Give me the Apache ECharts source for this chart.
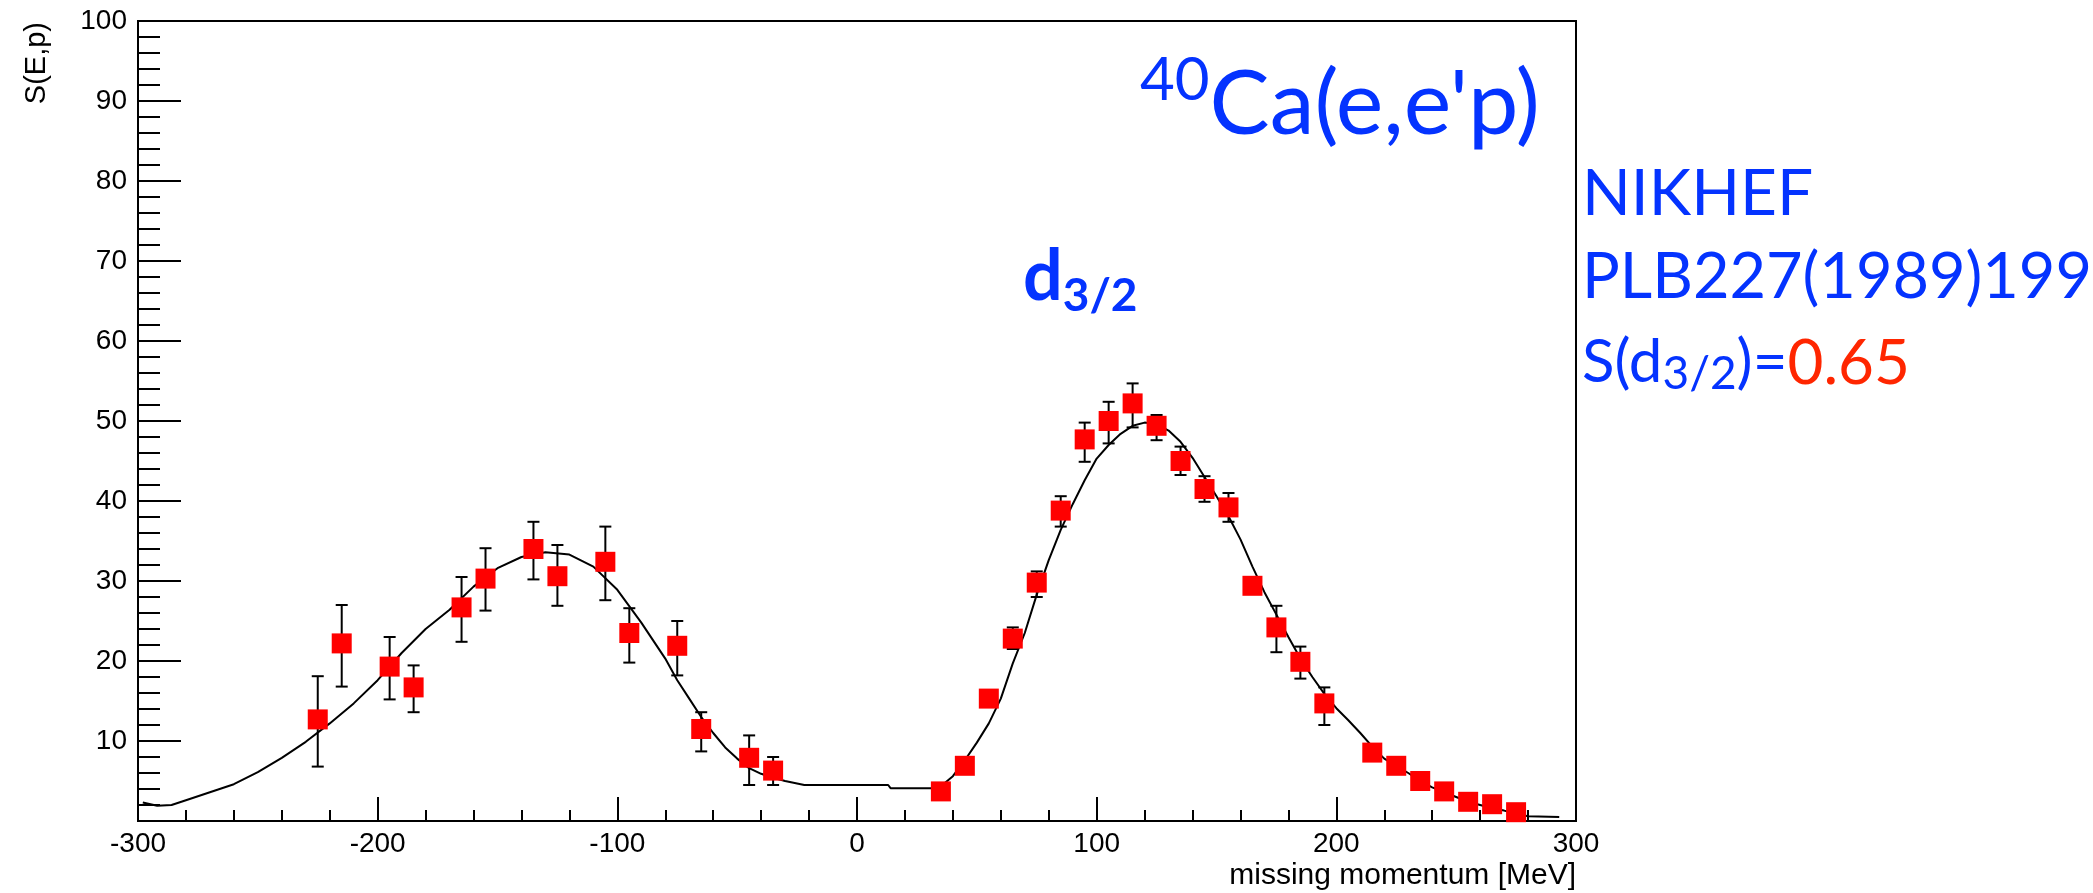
<!DOCTYPE html>
<html>
<head>
<meta charset="utf-8">
<script src="https://cdn.jsdelivr.net/npm/echarts@6/dist/echarts.min.js"></script>
<style>
  html, body { margin: 0; padding: 0; background: #fff; }
  #chart { width: 2093px; height: 893px; }
</style>
</head>
<body>
<div id="chart"></div>
<script>
// ---- data ----
const pointX = [-225, -215, -195, -185, -165, -155, -135, -125, -105, -95, -75, -65, -45, -35,
  35, 45, 55, 65, 75, 85, 95, 105, 115, 125, 135, 145, 155, 165, 175, 185, 195,
  215, 225, 235, 245, 255, 265, 275];
const pointY = [12.7, 22.2, 19.3, 16.7, 26.7, 30.3, 34.0, 30.6, 32.4, 23.5, 21.9, 11.5, 7.9, 6.3,
  3.7, 6.9, 15.3, 22.8, 29.8, 38.8, 47.7, 50.0, 52.2, 49.4, 45.0, 41.5, 39.2, 29.4, 24.2, 19.9, 14.7,
  8.55, 6.9, 5.0, 3.7, 2.4, 2.1, 1.1];
const errLow = [6.8, 16.8, 15.2, 13.6, 22.4, 26.3, 30.2, 26.9, 27.6, 19.8, 18.2, 8.7, 4.5, 4.5,
  3.2, 6.3, 14.6, 21.5, 28.0, 36.8, 44.9, 47.2, 49.2, 47.6, 43.25, 39.9, 37.4, 28.6, 21.1, 17.8, 12.0,
  8.0, 6.4, 4.6, 3.3, 2.1, 1.8, 0.8];
const errHigh = [18.1, 27.0, 23.0, 19.45, 30.5, 34.1, 37.4, 34.5, 36.8, 26.6, 25.0, 13.6, 10.7, 8.0,
  4.2, 7.5, 16.0, 24.2, 31.2, 40.6, 49.8, 52.4, 54.7, 50.75, 46.8, 43.1, 41.0, 30.2, 26.9, 21.8, 16.7,
  9.1, 7.4, 5.4, 4.1, 2.7, 2.4, 1.4];

const curveX = [-298, -292, -286, -280, -270, -260, -250, -240, -230, -220, -210, -200, -190, -180,
  -170, -160, -150, -140, -130, -120, -110, -100, -90, -80, -75, -70, -65, -60, -55, -50, -45, -40,
  -35, -30, -25, -22, 13, 14, 34, 40, 45, 50, 55, 60, 65, 70, 75, 80, 85, 90, 95, 100, 105, 110,
  115, 120, 125, 130, 135, 140, 145, 150, 155, 160, 165, 170, 175, 180, 185, 190, 195, 200, 205,
  210, 215, 220, 225, 230, 235, 240, 245, 250, 255, 260, 265, 270, 275, 280, 293];
const curveY = [2.3, 1.9, 2.0, 2.6, 3.6, 4.6, 6.1, 7.9, 9.9, 12.2, 14.7, 17.6, 21.0, 24.0,
  26.4, 29.3, 31.6, 33.0, 33.6, 33.3, 31.8, 28.9, 24.8, 20.3, 17.6, 15.3, 13.0, 11.0, 9.2, 7.8, 6.6, 5.9,
  5.4, 5.0, 4.7, 4.5, 4.5, 4.1, 4.1, 5.6, 7.6, 9.8, 12.2, 15.3, 19.7, 23.5, 28.3, 32.6, 36.4, 39.6, 42.6, 45.3, 47.0, 48.4,
  49.4, 49.8, 49.6, 48.8, 47.4, 45.4, 43.0, 40.6, 38.1, 35.2, 31.8, 28.6, 25.8, 23.0, 20.3, 18.0, 15.9, 14.1, 12.6,
  11.0, 9.3, 7.8, 6.9, 6.0, 5.0, 4.2, 3.6, 3.0, 2.4, 2.0, 1.6, 1.3, 0.9, 0.6, 0.5];

const xName = 'missing momentum [MeV]';
const yName = 'S(E,p)';
const blue = '#0433ff';
const red = '#ff2600';

// ---- chart ----
const chart = echarts.init(document.getElementById('chart'), null, { renderer: 'canvas' });
const tickFont = { fontFamily: 'Liberation Sans', fontSize: 28, color: '#000' };

const option = {
  animation: false,
  backgroundColor: '#ffffff',
  grid: {
    left: 138, right: 517, top: 21, bottom: 72,
    show: true, borderColor: '#000', borderWidth: 2, backgroundColor: 'transparent'
  },
  xAxis: {
    type: 'value', min: -300, max: 300, interval: 100,
    axisLine: { show: true, onZero: false, lineStyle: { color: '#000', width: 2 } },
    axisTick: { show: true, inside: true, length: 24, lineStyle: { color: '#000', width: 2 } },
    minorTick: { show: true, splitNumber: 5, length: 11, lineStyle: { color: '#000', width: 2 } },
    splitLine: { show: false },
    minorSplitLine: { show: false },
    axisLabel: Object.assign({ margin: 9 }, tickFont),
    name: xName, nameLocation: 'end', nameGap: 0,
    nameTextStyle: { fontFamily: 'Liberation Sans', fontSize: 30, color: '#000',
      align: 'right', verticalAlign: 'top', padding: [40, 0, 0, 0] }
  },
  yAxis: {
    type: 'value', min: 0, max: 100, interval: 10,
    axisLine: { show: true, onZero: false, lineStyle: { color: '#000', width: 2 } },
    axisTick: { show: true, inside: true, length: 43, lineStyle: { color: '#000', width: 2 } },
    minorTick: { show: true, splitNumber: 5, length: 22, lineStyle: { color: '#000', width: 2 } },
    splitLine: { show: false },
    minorSplitLine: { show: false },
    axisLabel: Object.assign({ margin: 11, showMinLabel: false }, tickFont)
  },
  graphic: [
    { type: 'text', x: 37, y: 22, rotation: Math.PI / 2, z: 10,
      style: { text: yName, fontFamily: 'Liberation Sans', fontSize: 29, fill: '#000',
        align: 'right', verticalAlign: 'middle' } },
    { type: 'text', x: 1140, y: 51, z: 10,
      style: { text: "{sup|40}{m|Ca(e,e'p)}", align: 'left', verticalAlign: 'top',
        rich: {
          sup: { fontFamily: 'Lato', fontSize: 60, lineHeight: 60, verticalAlign: 'top', fill: blue },
          m: { fontFamily: 'Lato', fontSize: 90, lineHeight: 90, verticalAlign: 'top', padding: [9, 0, 0, 0], fill: blue }
        } } },
    { type: 'text', x: 1023, y: 242, z: 10,
      style: { text: '{d|d}{s|3/2}', align: 'left', verticalAlign: 'top',
        rich: {
          d: { fontFamily: 'Lato', fontWeight: 'bold', fontSize: 70, lineHeight: 70, verticalAlign: 'top', fill: blue },
          s: { fontFamily: 'Lato', fontWeight: 'bold', fontSize: 46, lineHeight: 46, verticalAlign: 'top', padding: [31, 0, 0, 0], fill: blue }
        } } },
    { type: 'text', x: 1582, y: 194, z: 10,
      style: { text: 'NIKHEF', fontFamily: 'Lato', fontSize: 64, fill: blue, align: 'left', verticalAlign: 'middle' } },
    { type: 'text', x: 1582, y: 278, z: 10,
      style: { text: 'PLB227(1989)199', fontFamily: 'Lato', fontSize: 63, fill: blue, align: 'left', verticalAlign: 'middle' } },
    { type: 'text', x: 1582, y: 333, z: 10,
      style: { text: '{a|S(d}{s|3/2}{a|)=}{r|0.65}', align: 'left', verticalAlign: 'top',
        rich: {
          a: { fontFamily: 'Lato', fontSize: 60, lineHeight: 60, verticalAlign: 'top', fill: blue },
          s: { fontFamily: 'Lato', fontSize: 46, lineHeight: 46, verticalAlign: 'top', padding: [18, 0, 0, 0], fill: blue },
          r: { fontFamily: 'Lato', fontSize: 62, lineHeight: 60, verticalAlign: 'top', fill: red }
        } } }
  ],
  series: [
    {
      type: 'line', name: 'theory', z: 2,
      data: curveX.map((x, i) => [x, curveY[i]]),
      showSymbol: false, symbol: 'none', smooth: false,
      lineStyle: { color: '#000', width: 2 }
    },
    {
      type: 'custom', name: 'errors', z: 3,
      data: pointX.map((x, i) => [x, errLow[i], errHigh[i]]),
      encode: { x: 0, y: [1, 2] },
      renderItem: function (params, api) {
        const x = api.value(0);
        const top = api.coord([x, api.value(2)]);
        const bot = api.coord([x, api.value(1)]);
        const cap = 6;
        const st = { stroke: '#000', lineWidth: 2 };
        return {
          type: 'group',
          children: [
            { type: 'line', shape: { x1: top[0], y1: top[1], x2: bot[0], y2: bot[1] }, style: st },
            { type: 'line', shape: { x1: top[0] - cap, y1: top[1], x2: top[0] + cap, y2: top[1] }, style: st },
            { type: 'line', shape: { x1: bot[0] - cap, y1: bot[1], x2: bot[0] + cap, y2: bot[1] }, style: st }
          ]
        };
      }
    },
    {
      type: 'scatter', name: 'data', z: 4,
      data: pointX.map((x, i) => [x, pointY[i]]),
      symbol: 'rect', symbolSize: 20,
      itemStyle: { color: '#ff0000', opacity: 1 }
    }
  ]
};
chart.setOption(option);
</script>
</body>
</html>
